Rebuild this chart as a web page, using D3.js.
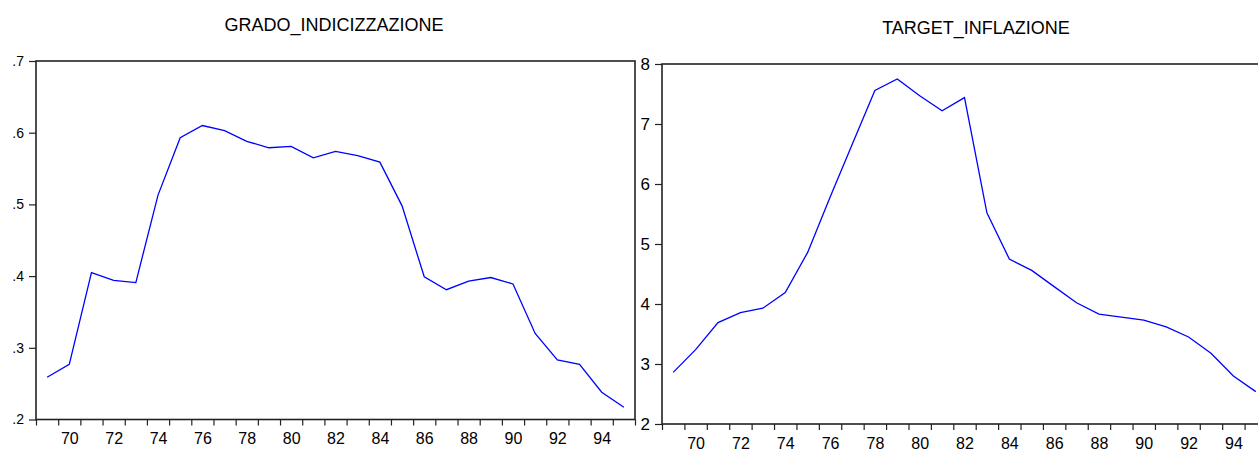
<!DOCTYPE html>
<html>
<head>
<meta charset="utf-8">
<script src="https://cdn.jsdelivr.net/npm/d3@7"></script>
<style>
  html, body { margin: 0; padding: 0; background: #fff; overflow: hidden; }
  svg { display: block; }
  text { font-family: Arial, "Liberation Sans", sans-serif; fill: #000; }
</style>
</head>
<body>
<script>
// Annual observations, 1969-1995 (years shown as two digits)
const years = d3.range(69, 96);

const gradoIndicizzazione = [
  0.259, 0.277, 0.405, 0.394, 0.391, 0.513, 0.593, 0.610, 0.603, 0.588,
  0.579, 0.581, 0.565, 0.574, 0.568, 0.559, 0.498, 0.399, 0.381, 0.393,
  0.398, 0.389, 0.320, 0.283, 0.277, 0.238, 0.217
];

const targetInflazione = [
  2.86, 3.24, 3.69, 3.855, 3.93, 4.19, 4.86, 5.78, 6.67, 7.56,
  7.75, 7.47, 7.22, 7.44, 5.52, 4.75, 4.56, 4.29, 4.02, 3.83,
  3.78, 3.73, 3.62, 3.45, 3.18, 2.80, 2.54
];

const xTickYears = [70, 72, 74, 76, 78, 80, 82, 84, 86, 88, 90, 92, 94];
const gradoTicks = [0.2, 0.3, 0.4, 0.5, 0.6, 0.7];
const targetTicks = [2, 3, 4, 5, 6, 7, 8];

const W = 1258, H = 449;
const svg = d3.select("body").append("svg").attr("width", W).attr("height", H);

function panel(cfg) {
  const g = svg.append("g");
  const x = d3.scaleLinear().domain([68.5, 95.5]).range([cfg.left, cfg.right]);
  const y = d3.scaleLinear().domain(cfg.yDomain).range([cfg.bottom, cfg.top]);

  // title
  g.append("text")
    .attr("x", cfg.titleX).attr("y", cfg.titleY)
    .attr("text-anchor", "middle")
    .style("font-size", "18px")
    .text(cfg.title);

  // frame
  g.append("rect")
    .attr("x", cfg.left).attr("y", cfg.top)
    .attr("width", cfg.right - cfg.left).attr("height", cfg.bottom - cfg.top)
    .attr("fill", "none").attr("stroke", "#222").attr("stroke-width", 1.6);

  // y axis (ticks outward on the left)
  const yAxis = d3.axisLeft(y).tickValues(cfg.yTicks).tickSize(7).tickPadding(5)
    .tickFormat(cfg.yFormat);
  const ya = g.append("g").attr("transform", `translate(${cfg.left},0)`).call(yAxis);
  ya.select(".domain").remove();
  ya.selectAll(".tick line").attr("stroke", "#222").attr("stroke-width", 1.2);
  ya.selectAll(".tick text").style("font-size", cfg.yFont).attr("fill", "#000");

  // x axis: ticks at every year boundary, labels at even years
  const bounds = d3.range(68.5, 96, 1);
  const xa = g.append("g").attr("transform", `translate(0,${cfg.bottom})`);
  xa.call(d3.axisBottom(x).tickValues(bounds).tickSize(6).tickFormat(""));
  xa.select(".domain").remove();
  xa.selectAll(".tick line").attr("stroke", "#222").attr("stroke-width", 1.2);
  const xl = g.append("g").attr("transform", `translate(0,${cfg.bottom})`);
  xl.call(d3.axisBottom(x).tickValues(xTickYears).tickSize(0).tickPadding(cfg.xPad)
    .tickFormat(d3.format("d")));
  xl.select(".domain").remove();
  xl.selectAll(".tick text").style("font-size", "16px").attr("fill", "#000");

  // series
  const line = d3.line().x((d, i) => x(years[i])).y(d => y(d));
  g.append("path")
    .datum(cfg.values)
    .attr("d", line)
    .attr("fill", "none")
    .attr("stroke", "#0000ff")
    .attr("stroke-width", 1.3);
}

panel({
  title: "GRADO_INDICIZZAZIONE", titleX: 334, titleY: 31,
  left: 36, right: 635, top: 61, bottom: 419.5,
  yDomain: [0.2, 0.7], yTicks: gradoTicks,
  yFormat: d => d3.format(".1f")(d).replace(/^0/, ""),
  yFont: "14px", xPad: 13,
  values: gradoIndicizzazione
});

panel({
  title: "TARGET_INFLAZIONE", titleX: 976, titleY: 34,
  left: 662, right: 1267, top: 64, bottom: 424,
  yDomain: [2, 8], yTicks: targetTicks,
  yFormat: d3.format("d"),
  yFont: "17px", xPad: 14,
  values: targetInflazione
});
</script>
</body>
</html>
